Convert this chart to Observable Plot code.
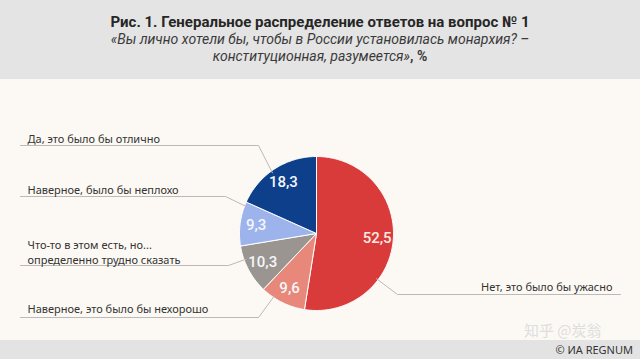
<!DOCTYPE html>
<html><head><meta charset="utf-8">
<script src="https://cdn.jsdelivr.net/npm/d3@7"></script>
<script src="https://cdn.jsdelivr.net/npm/@observablehq/plot@0.6"></script>
<style>
html,body{margin:0;padding:0;}
body{width:640px;height:359px;background:#fcf9f4;position:relative;overflow:hidden;font-family:"Noto Sans",sans-serif;}
#hdr{position:absolute;left:0;top:0;width:640px;height:79px;background:#e4e4e4;text-align:center;}
#title{position:absolute;left:0;width:640px;top:12px;font-family:Roboto,sans-serif;font-weight:bold;font-size:15px;color:#262626;line-height:20px;}
#sub{position:absolute;left:0;width:640px;top:31px;font-family:Roboto,sans-serif;font-style:italic;font-size:14px;color:#3a3a3a;line-height:17px;}
#chart{position:absolute;left:0;top:79px;}
#ftr{position:absolute;left:0;top:340px;width:640px;height:19px;background:#e3e3e3;}
#ftr span{position:absolute;right:7px;top:2px;font-size:11px;color:#333;line-height:15px;}
#wm{position:absolute;left:524px;top:321px;font-family:"Noto Sans CJK SC",sans-serif;font-size:15px;line-height:17px;color:#dedede;}
</style></head>
<body>
<div id="hdr">
  <div id="title">Рис. 1. Генеральное распределение ответов на вопрос № 1</div>
  <div id="sub">«Вы лично хотели бы, чтобы в России установилась монархия? –<br>конституционная, разумеется»<b style="font-style:normal">, %</b></div>
</div>
<div id="chart"></div>
<div id="wm">知乎 @炭翁</div>
<div id="ftr"><span>© ИА REGNUM</span></div>
<script>
// ---- data ----
const categories = [
  "Нет, это было бы ужасно",
  "Наверное, это было бы нехорошо",
  "Что-то в этом есть, но...\nопределенно трудно сказать",
  "Наверное, было бы неплохо",
  "Да, это было бы отлично"
];
const values = [52.5, 9.6, 10.3, 9.3, 18.3];
const colors = ["#d93b3b", "#e8887a", "#9a9590", "#9db3ec", "#0d3f8a"];
const valueLabels = ["52,5", "9,6", "10,3", "9,3", "18,3"];

// ---- layout ----
const W = 640, H = 261, cx = 316, cy = 154, R = 77;
// label layout (pixel positions in the svg)
const layout = [
  {side: "right", tx: 612, ty: 208, lineY: 215, x0: 397, x1: 620, attach: 127},
  {side: "left",  tx: 27,  ty: 229, lineY: 238, x0: 20,  x1: 258, attach: 214},
  {side: "left",  tx: 27,  ty: 172.5, lineY: 186, x0: 20, x1: 228, attach: 250},
  {side: "left",  tx: 27,  ty: 110, lineY: 117, x0: 20,  x1: 225, attach: 291},
  {side: "left",  tx: 27,  ty: 59,  lineY: 66,  x0: 20,  x1: 258, attach: 324}
];

const arcs = d3.pie().sort(null).value(d => d)(values);
const marks = [];
const rad = Math.PI / 180;

// slices
arcs.forEach((a, i) => {
  const pts = [{x: 0, y: 0}];
  const n = Math.max(2, Math.ceil((a.endAngle - a.startAngle) / rad));
  for (let k = 0; k <= n; k++) {
    const t = a.startAngle + (a.endAngle - a.startAngle) * k / n;
    pts.push({x: R * Math.sin(t), y: -R * Math.cos(t)});
  }
  pts.push({x: 0, y: 0});
  marks.push(Plot.line(pts, {x: "x", y: "y", fill: colors[i], stroke: "#ffffff", strokeWidth: 1, strokeLinejoin: "round"}));
});

// value labels
const valPts = arcs.map((a, i) => {
  const m = (a.startAngle + a.endAngle) / 2;
  const rr = R * 0.79;
  return {x: rr * Math.sin(m), y: -rr * Math.cos(m), t: valueLabels[i], c: i === 0 ? "#fbe9e2" : "#f4f6fb"};
});
marks.push(Plot.text(valPts, {x: "x", y: "y", text: "t", fill: "c", fontSize: 15, fontFamily: "Roboto, sans-serif", fontWeight: 500}));

// leader lines
layout.forEach((L, i) => {
  const t = L.attach * rad;
  const px = (R - 2) * Math.sin(t), py = -(R - 2) * Math.cos(t);
  let pts;
  if (L.side === "left") {
    pts = [{x: L.x0 - cx, y: L.lineY - cy}, {x: L.x1 - cx, y: L.lineY - cy}, {x: px, y: py}];
  } else {
    pts = [{x: px, y: py}, {x: L.x0 - cx, y: L.lineY - cy}, {x: L.x1 - cx, y: L.lineY - cy}];
  }
  marks.push(Plot.line(pts, {x: "x", y: "y", stroke: "#bdbab5", strokeWidth: 1}));
});

// category labels
const labPts = layout.map((L, i) => ({x: L.tx - cx, y: L.ty - cy, t: categories[i], a: L.side === "left" ? "start" : "end"}));
marks.push(Plot.text(labPts.filter(d => d.a === "start"), {x: "x", y: "y", text: "t", textAnchor: "start", lineAnchor: "middle", lineHeight: 1.3, fontSize: 11, fill: "#333", fontFamily: "Noto Sans, sans-serif"}));
marks.push(Plot.text(labPts.filter(d => d.a === "end"), {x: "x", y: "y", text: "t", textAnchor: "end", lineAnchor: "middle", fontSize: 11, fill: "#333", fontFamily: "Noto Sans, sans-serif"}));

const chart = Plot.plot({
  width: W, height: H,
  margin: 0,
  x: {domain: [-cx, W - cx], range: [0, W], axis: null},
  y: {domain: [-cy, H - cy], range: [0, H], axis: null},
  style: {background: "transparent", overflow: "visible"},
  marks
});
document.getElementById("chart").appendChild(chart);
</script>
</body></html>
